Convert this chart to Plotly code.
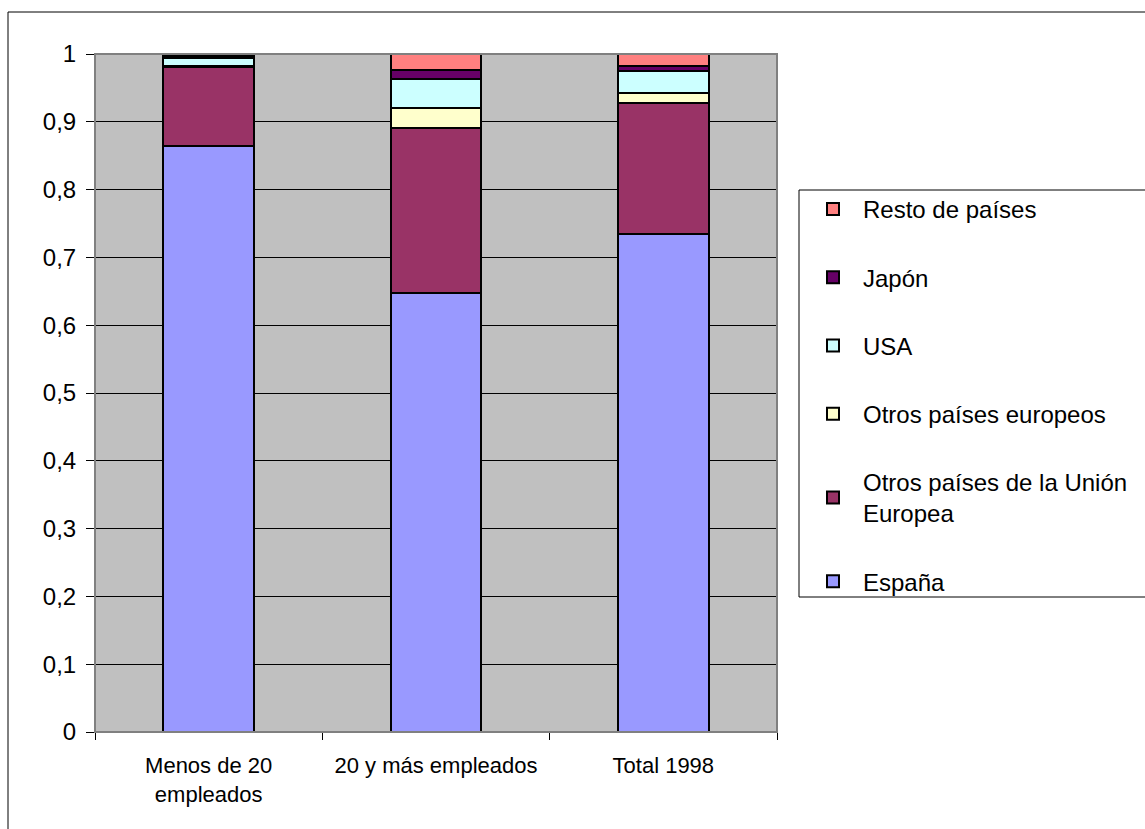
import plotly.graph_objects as go

categories = ["Menos de 20<br>empleados", "20 y más empleados", "Total 1998"]

series_names = [
    "España",
    "Otros países de la Unión<br>Europea",
    "Otros países europeos",
    "USA",
    "Japón",
    "Resto de países",
]
espana = [0.864, 0.648, 0.735]
otros_ue = [0.117, 0.243, 0.192]
otros_europeos = [0.001, 0.030, 0.016]
usa = [0.012, 0.042, 0.032]
japon = [0.003, 0.013, 0.008]
resto = [0.003, 0.024, 0.017]

colors = ["#9999FF", "#993366", "#FFFFCC", "#CCFFFF", "#660066", "#FF8080"]
values = [espana, otros_ue, otros_europeos, usa, japon, resto]

W, H = 1145, 829
L, R, T, B = 95, 368, 54, 97
pw, ph = W - L - R, H - T - B

def px_x(x):
    return (x - L) / pw

def px_y(y):
    return (H - B - y) / ph

fig = go.Figure()
n = len(series_names)
for i, (name, vals, col) in enumerate(zip(series_names, values, colors)):
    fig.add_trace(go.Bar(
        x=categories, y=vals, name=name,
        marker=dict(color=col, line=dict(color="black", width=2)),
        legendgroup=f"g{i}",
        legendrank=n - i,
    ))

fig.update_layout(
    width=W, height=H,
    margin=dict(l=L, r=R, t=T, b=B),
    barmode="stack",
    bargap=0.6,
    separators=", ",
    paper_bgcolor="white",
    plot_bgcolor="#C0C0C0",
    font=dict(family="Liberation Sans, Arial", color="black", size=22),
    legend=dict(
        x=px_x(803), y=px_y(187), xanchor="left", yanchor="top",
        traceorder="grouped",
        tracegroupgap=34,
        itemwidth=50,
        font=dict(size=24),
        bgcolor="rgba(0,0,0,0)",
        borderwidth=0,
    ),
    showlegend=True,
)

fig.update_xaxes(
    type="category",
    tickson="boundaries",
    ticks="outside", ticklen=7, tickcolor="black",
    showline=True, linecolor="black", linewidth=1,
    showgrid=False,
    tickfont=dict(size=22),
    ticklabelstandoff=14,
)
fig.update_yaxes(
    range=[0, 1], dtick=0.1, tick0=0,
    ticks="outside", ticklen=8, tickcolor="black",
    showline=True, linecolor="black", linewidth=1,
    showgrid=True, gridcolor="black", gridwidth=1,
    zeroline=False,
    tickfont=dict(size=24),
    ticklabelstandoff=5,
)

# plot-area border (top/right grey)
fig.add_shape(type="rect", xref="paper", yref="paper", x0=0, x1=1, y0=0, y1=1,
              line=dict(color="#808080", width=2), layer="above")
# legend box
fig.add_shape(type="rect", xref="paper", yref="paper",
              x0=px_x(799), x1=px_x(1160), y0=px_y(597), y1=px_y(190),
              line=dict(color="black", width=1))
# chart outer border
fig.add_shape(type="rect", xref="paper", yref="paper",
              x0=px_x(8), x1=px_x(1160), y0=px_y(845), y1=px_y(12),
              line=dict(color="black", width=1))

fig.write_html("out.html")
